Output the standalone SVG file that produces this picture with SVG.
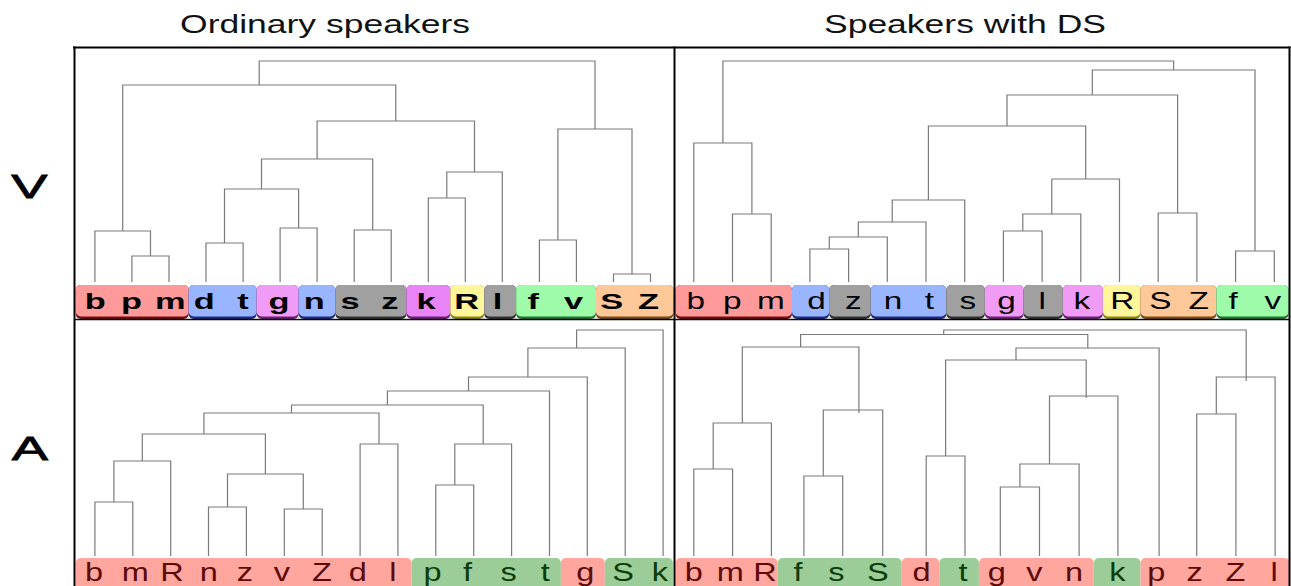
<svg xmlns="http://www.w3.org/2000/svg" width="1291" height="586" viewBox="0 0 1291 586">
<style>
text{font-family:"Liberation Sans",Arial,sans-serif;text-anchor:middle}
.title{font-size:25px;fill:#111}
.big{font-size:34px;fill:#000;stroke:#000;stroke-width:0.8}
.ul{font-size:21.5px;font-weight:bold;fill:#000}
.ur{font-size:23px;fill:#000}
.lo{font-size:25px}
.lr{fill:#5c0a0a}
.lg{fill:#0b3d0b}
.tree path{fill:none;stroke:#7a7a7a;stroke-width:1.2}
.frame line{stroke:#000;stroke-width:2}
.red{fill:#ff9a9a}.redd{fill:#7a0a0a}
.blu{fill:#9ab5ff}.blud{fill:#1a2a80}
.pnk{fill:#f09cf7}.pnkd{fill:#6e1e78}
.mag{fill:#e884f5}
.gry{fill:#a0a0a0}.gryd{fill:#303030}
.yel{fill:#fff59a}.yeld{fill:#8a8410}
.grn{fill:#9dfba9}.grnd{fill:#1a7a2a}
.org{fill:#ffc898}.orgd{fill:#7a4a10}
.lred{fill:#ffa69e}
.lgrn{fill:#9ccc98}
</style>

<g id="titles">
<text class="title" transform="translate(325 33) scale(1.42 1)">Ordinary speakers</text>
<text class="title" transform="translate(965 33) scale(1.42 1)">Speakers with DS</text>
<text class="big" transform="translate(29.5 197.5) scale(1.6 1)">V</text>
<text class="big" transform="translate(30 459.5) scale(1.6 1)">A</text>
</g>

<!-- upper-left label boxes -->
<g id="ul-labels">
<g id="ul-red"><rect class="redd" x="75.8" y="285" width="112.9" height="34" rx="5"/><rect class="red" x="75.8" y="285" width="112.9" height="31.5" rx="5"/></g>
<g id="ul-blue1"><rect class="blud" x="188.7" y="285" width="68" height="34" rx="5"/><rect class="blu" x="188.7" y="285" width="68" height="31.5" rx="5"/></g>
<g id="ul-pink"><rect class="pnkd" x="256.7" y="285" width="42" height="34" rx="5"/><rect class="pnk" x="256.7" y="285" width="42" height="31.5" rx="5"/></g>
<g id="ul-blue2"><rect class="blud" x="298.7" y="285" width="36.6" height="34" rx="5"/><rect class="blu" x="298.7" y="285" width="36.6" height="31.5" rx="5"/></g>
<g id="ul-gray1"><rect class="gryd" x="335.3" y="285" width="71.2" height="34" rx="5"/><rect class="gry" x="335.3" y="285" width="71.2" height="31.5" rx="5"/></g>
<g id="ul-mag"><rect class="pnkd" x="406.5" y="285" width="44" height="34" rx="5"/><rect class="mag" x="406.5" y="285" width="44" height="31.5" rx="5"/></g>
<g id="ul-yel"><rect class="yeld" x="450.5" y="285" width="33.8" height="34" rx="5"/><rect class="yel" x="450.5" y="285" width="33.8" height="31.5" rx="5"/></g>
<g id="ul-gray2"><rect class="gryd" x="484.3" y="285" width="31.9" height="34" rx="5"/><rect class="gry" x="484.3" y="285" width="31.9" height="31.5" rx="5"/></g>
<g id="ul-green"><rect class="grnd" x="516.2" y="285" width="79.8" height="34" rx="5"/><rect class="grn" x="516.2" y="285" width="79.8" height="31.5" rx="5"/></g>
<g id="ul-orange"><rect class="orgd" x="596" y="285" width="77.5" height="34" rx="5"/><rect class="org" x="596" y="285" width="77.5" height="31.5" rx="5"/></g>
<g class="ul">
<text transform="translate(95.3 308.5) scale(1.6 1)">b</text>
<text transform="translate(131.5 308.5) scale(1.6 1)">p</text>
<text transform="translate(170.4 308.5) scale(1.6 1)">m</text>
<text transform="translate(204.2 308.5) scale(1.6 1)">d</text>
<text transform="translate(243.1 308.5) scale(1.6 1)">t</text>
<text transform="translate(278.9 308.5) scale(1.6 1)">g</text>
<text transform="translate(314.3 308.5) scale(1.6 1)">n</text>
<text transform="translate(350.1 308.5) scale(1.6 1)">s</text>
<text transform="translate(389.8 308.5) scale(1.6 1)">z</text>
<text transform="translate(426 308.5) scale(1.6 1)">k</text>
<text transform="translate(466.7 308.5) scale(1.6 1)">R</text>
<text transform="translate(497.5 308.5) scale(1.6 1)">l</text>
<text transform="translate(533.3 308.5) scale(1.6 1)">f</text>
<text transform="translate(573.5 308.5) scale(1.6 1)">v</text>
<text transform="translate(611.8 308.5) scale(1.6 1)">S</text>
<text transform="translate(648.4 308.5) scale(1.6 1)">Z</text>
</g>
</g>

<!-- upper-right label boxes -->
<g id="ur-labels">
<g id="ur-red"><rect class="redd" x="675.5" y="285" width="116.5" height="34" rx="5"/><rect class="red" x="675.5" y="285" width="116.5" height="31.5" rx="5"/></g>
<g id="ur-blue1"><rect class="blud" x="792" y="285" width="37.2" height="34" rx="5"/><rect class="blu" x="792" y="285" width="37.2" height="31.5" rx="5"/></g>
<g id="ur-gray1"><rect class="gryd" x="829.2" y="285" width="41.6" height="34" rx="5"/><rect class="gry" x="829.2" y="285" width="41.6" height="31.5" rx="5"/></g>
<g id="ur-blue2"><rect class="blud" x="870.8" y="285" width="75.6" height="34" rx="5"/><rect class="blu" x="870.8" y="285" width="75.6" height="31.5" rx="5"/></g>
<g id="ur-gray2"><rect class="gryd" x="946.4" y="285" width="38.5" height="34" rx="5"/><rect class="gry" x="946.4" y="285" width="38.5" height="31.5" rx="5"/></g>
<g id="ur-pink1"><rect class="pnkd" x="984.9" y="285" width="38.8" height="34" rx="5"/><rect class="pnk" x="984.9" y="285" width="38.8" height="31.5" rx="5"/></g>
<g id="ur-gray3"><rect class="gryd" x="1023.7" y="285" width="39.2" height="34" rx="5"/><rect class="gry" x="1023.7" y="285" width="39.2" height="31.5" rx="5"/></g>
<g id="ur-pink2"><rect class="pnkd" x="1062.9" y="285" width="40" height="34" rx="5"/><rect class="pnk" x="1062.9" y="285" width="40" height="31.5" rx="5"/></g>
<g id="ur-yel"><rect class="yeld" x="1102.9" y="285" width="37.6" height="34" rx="5"/><rect class="yel" x="1102.9" y="285" width="37.6" height="31.5" rx="5"/></g>
<g id="ur-orange"><rect class="orgd" x="1140.5" y="285" width="76" height="34" rx="5"/><rect class="org" x="1140.5" y="285" width="76" height="31.5" rx="5"/></g>
<g id="ur-green"><rect class="grnd" x="1216.5" y="285" width="72.1" height="34" rx="5"/><rect class="grn" x="1216.5" y="285" width="72.1" height="31.5" rx="5"/></g>
<g class="ur">
<text transform="translate(695.7 309) scale(1.45 1)">b</text>
<text transform="translate(732.2 309) scale(1.45 1)">p</text>
<text transform="translate(771 309) scale(1.45 1)">m</text>
<text transform="translate(816.5 309) scale(1.45 1)">d</text>
<text transform="translate(853.4 309) scale(1.45 1)">z</text>
<text transform="translate(893 309) scale(1.45 1)">n</text>
<text transform="translate(929.4 309) scale(1.45 1)">t</text>
<text transform="translate(967.8 309) scale(1.45 1)">s</text>
<text transform="translate(1006.6 309) scale(1.45 1)">g</text>
<text transform="translate(1042.3 309) scale(1.45 1)">l</text>
<text transform="translate(1081.9 309) scale(1.45 1)">k</text>
<text transform="translate(1122.3 309) scale(1.45 1)">R</text>
<text transform="translate(1160.3 309) scale(1.45 1)">S</text>
<text transform="translate(1198.7 309) scale(1.45 1)">Z</text>
<text transform="translate(1233.2 309) scale(1.45 1)">f</text>
<text transform="translate(1272.8 309) scale(1.45 1)">v</text>
</g>
</g>

<!-- lower-left label boxes -->
<g id="ll-labels">
<rect id="ll-red1" class="lred" x="75.8" y="558" width="335.7" height="34" rx="5"/>
<rect id="ll-grn1" class="lgrn" x="411.5" y="558" width="149.4" height="34" rx="5"/>
<rect id="ll-red2" class="lred" x="560.9" y="558" width="43.9" height="34" rx="5"/>
<rect id="ll-grn2" class="lgrn" x="604.8" y="558" width="68.1" height="34" rx="5"/>
<g class="lo lr">
<text transform="translate(94.1 581) scale(1.3 1)">b</text>
<text transform="translate(135.3 581) scale(1.3 1)">m</text>
<text transform="translate(171.9 581) scale(1.3 1)">R</text>
<text transform="translate(208.9 581) scale(1.3 1)">n</text>
<text transform="translate(245 581) scale(1.3 1)">z</text>
<text transform="translate(282 581) scale(1.3 1)">v</text>
<text transform="translate(322 581) scale(1.3 1)">Z</text>
<text transform="translate(357.8 581) scale(1.3 1)">d</text>
<text transform="translate(392.8 581) scale(1.3 1)">l</text>
<text transform="translate(585.4 581) scale(1.3 1)">g</text>
</g>
<g class="lo lg">
<text transform="translate(432.5 581) scale(1.3 1)">p</text>
<text transform="translate(467.5 581) scale(1.3 1)">f</text>
<text transform="translate(508.7 581) scale(1.3 1)">s</text>
<text transform="translate(545.3 581) scale(1.3 1)">t</text>
<text transform="translate(623.1 581) scale(1.3 1)">S</text>
<text transform="translate(660 581) scale(1.3 1)">k</text>
</g>
</g>

<!-- lower-right label boxes -->
<g id="lr-labels">
<rect id="lr-red1" class="lred" x="675.5" y="558" width="102.2" height="34" rx="5"/>
<rect id="lr-grn1" class="lgrn" x="777.7" y="558" width="124" height="34" rx="5"/>
<rect id="lr-red2" class="lred" x="901.7" y="558" width="37.6" height="34" rx="5"/>
<rect id="lr-grn2" class="lgrn" x="939.3" y="558" width="39.6" height="34" rx="5"/>
<rect id="lr-red3" class="lred" x="978.9" y="558" width="114.9" height="34" rx="5"/>
<rect id="lr-grn3" class="lgrn" x="1093.8" y="558" width="46.7" height="34" rx="5"/>
<rect id="lr-red4" class="lred" x="1140.5" y="558" width="149.3" height="34" rx="5"/>
<g class="lo lr">
<text transform="translate(693.8 581) scale(1.3 1)">b</text>
<text transform="translate(730.2 581) scale(1.3 1)">m</text>
<text transform="translate(765 581) scale(1.3 1)">R</text>
<text transform="translate(921.5 581) scale(1.3 1)">d</text>
<text transform="translate(996.7 581) scale(1.3 1)">g</text>
<text transform="translate(1034.3 581) scale(1.3 1)">v</text>
<text transform="translate(1074 581) scale(1.3 1)">n</text>
<text transform="translate(1156.3 581) scale(1.3 1)">p</text>
<text transform="translate(1194.7 581) scale(1.3 1)">z</text>
<text transform="translate(1235.5 581) scale(1.3 1)">Z</text>
<text transform="translate(1274 581) scale(1.3 1)">l</text>
</g>
<g class="lo lg">
<text transform="translate(797.9 581) scale(1.3 1)">f</text>
<text transform="translate(836.3 581) scale(1.3 1)">s</text>
<text transform="translate(877.9 581) scale(1.3 1)">S</text>
<text transform="translate(963.1 581) scale(1.3 1)">t</text>
<text transform="translate(1117.5 581) scale(1.3 1)">k</text>
</g>
</g>

<g id="connectors" class="tree">
<!-- upper-left -->
<path d="M131.9 282V256H169V282"/>
<path d="M94.9 282V231H150.5V256"/>
<path d="M206 282V243H243.1V282"/>
<path d="M280.1 282V228H317.1V282"/>
<path d="M224.5 243V189H298.6V228"/>
<path d="M354.2 282V230H391.2V282"/>
<path d="M261.5 189V159H372.7V230"/>
<path d="M428.3 282V198H465.3V282"/>
<path d="M446.8 198V172H502.3V282"/>
<path d="M317.1 159V121H474.5V172"/>
<path d="M122.7 231V85H395.8V121"/>
<path d="M539.4 282V240H576.4V282"/>
<path d="M613.5 282V274H650.5V282"/>
<path d="M557.9 240V129H632V274"/>
<path d="M259.2 85V61H595V129"/>
<!-- upper-right -->
<path d="M732.5 282V214H771.2V282"/>
<path d="M693.8 282V143H751.9V214"/>
<path d="M809.9 282V249H848.6V282"/>
<path d="M829.3 249V237H887.3V282"/>
<path d="M858.3 237V222H926V282"/>
<path d="M892.2 222V200H964.7V282"/>
<path d="M1003.4 282V231H1042.1V282"/>
<path d="M1022.8 231V214H1080.8V282"/>
<path d="M1051.8 214V179H1119.5V282"/>
<path d="M928.4 200V126H1085.7V179"/>
<path d="M1158.2 282V213H1196.9V282"/>
<path d="M1007 126V95H1177.6V213"/>
<path d="M1235.6 282V251H1274.3V282"/>
<path d="M1092.3 95V70H1255V251"/>
<path d="M722.9 143V61H1173.6V70"/>
<!-- lower-left -->
<path d="M94.9 556V502H132.8V556"/>
<path d="M113.9 502V461H170.7V556"/>
<path d="M208.5 556V507H246.4V556"/>
<path d="M284.3 556V509H322.2V556"/>
<path d="M227.5 507V474H303.3V509"/>
<path d="M142.3 461V434H265.4V474"/>
<path d="M360.1 556V444H397.9V556"/>
<path d="M203.9 434V413H379V444"/>
<path d="M435.8 556V485H473.7V556"/>
<path d="M454.8 485V444H511.6V556"/>
<path d="M291.5 413V405H483.2V444"/>
<path d="M387.4 405V391H549.5V556"/>
<path d="M468.5 391V377H587.3V556"/>
<path d="M527.9 377V348H625.2V556"/>
<path d="M576.6 348V330H663.1V556"/>
<!-- lower-right -->
<path d="M693.8 556V469H732.6V556"/>
<path d="M713.2 469V423H771.4V556"/>
<path d="M803.9 556V476H842.7V556"/>
<path d="M823.3 476V410H882.7V556"/>
<path d="M742.3 423V347H858.9V413"/>
<path d="M926.2 556V456H965V556"/>
<path d="M1000.3 556V487H1039.5V556"/>
<path d="M1019.9 487V464H1079.1V556"/>
<path d="M1049.5 464V396H1117.9V556"/>
<path d="M945.6 456V360H1086.2V398"/>
<path d="M1016 360V348H1159.1V556"/>
<path d="M800.6 347V334.5H1087.8V348"/>
<path d="M1196.7 556V414H1235.9V556"/>
<path d="M1216.3 414V377H1275.1V556"/>
<path d="M943.7 334.5V330H1246.2V381"/>
</g>

<g id="frame" class="frame">
<line x1="73" y1="47.5" x2="1290.5" y2="47.5"/>
<line x1="74.5" y1="46.5" x2="74.5" y2="586"/>
<line x1="674.5" y1="46.5" x2="674.5" y2="586"/>
<line x1="1289.5" y1="46.5" x2="1289.5" y2="586"/>
<line x1="74" y1="319.5" x2="1290" y2="319.5" style="stroke-width:1.5"/>
</g>
</svg>
